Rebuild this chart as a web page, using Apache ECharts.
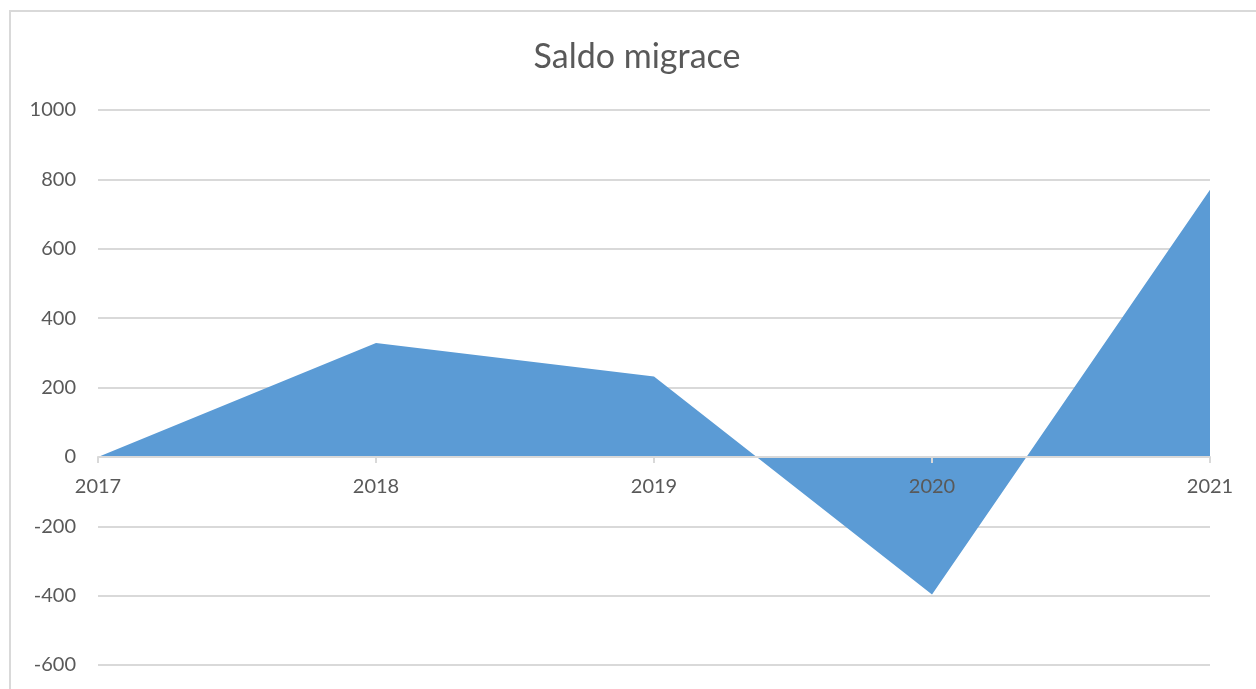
<!DOCTYPE html>
<html>
<head>
<meta charset="utf-8">
<script src="https://cdn.jsdelivr.net/npm/echarts@6/dist/echarts.min.js"></script>
<style>
  html, body { margin: 0; padding: 0; background: #fff; overflow: hidden; }
  .frame {
    position: absolute;
    left: 9px;
    top: 10px;
    width: 1400px;
    height: 900px;
    border: 2px solid #d9d9d9;
    box-sizing: border-box;
  }
  #chart {
    position: absolute;
    left: 0;
    top: 0;
    width: 1274px;
    height: 689px;
  }
</style>
</head>
<body>
<div class="frame"></div>
<div id="chart"></div>
<script>
const years = ['2017', '2018', '2019', '2020', '2021'];
const saldo = [0, 328, 232, -397, 770];
const yTicks = [-600, -400, -200, 0, 200, 400, 600, 800, 1000];

const textColor = '#595959';
const lineColor = '#d9d9d9';
const fillColor = '#5b9bd5';
const font = 'Lato, "Open Sans", sans-serif';

const gridHeight = 555;
const yMin = yTicks[0];
const yMax = yTicks[yTicks.length - 1];
// move the category axis up to the zero line (labels included)
const zeroOffset = -gridHeight * (0 - yMin) / (yMax - yMin);

const myChart = echarts.init(document.getElementById('chart'));

const option = {
  animation: false,
  title: {
    text: 'Saldo migrace',
    left: 'center',
    top: 35,
    textStyle: {
      color: textColor,
      fontWeight: 'normal',
      fontSize: 34,
      fontFamily: font
    }
  },
  grid: {
    left: 98,
    top: 110,
    width: 1112,
    height: gridHeight,
    containLabel: false,
    outerBoundsMode: 'none'
  },
  xAxis: {
    type: 'category',
    data: years,
    boundaryGap: false,
    position: 'bottom',
    offset: zeroOffset,
    axisLine: { onZero: false, lineStyle: { color: lineColor, width: 2 } },
    axisTick: { show: true, length: 6, lineStyle: { color: lineColor, width: 2 } },
    axisLabel: {
      interval: 0,
      margin: 20,
      color: textColor,
      fontSize: 20,
      fontFamily: font
    },
    splitLine: { show: false },
    z: 3
  },
  yAxis: {
    type: 'value',
    min: yMin,
    max: yMax,
    interval: 200,
    axisLine: { show: false },
    axisTick: { show: false },
    axisLabel: {
      margin: 22,
      color: textColor,
      fontSize: 20,
      fontFamily: font,
      formatter: (v) => String(v)
    },
    splitLine: { lineStyle: { color: lineColor, width: 2 } }
  },
  series: [
    {
      type: 'line',
      data: saldo,
      symbol: 'none',
      lineStyle: { width: 0 },
      areaStyle: { color: fillColor, opacity: 1, origin: 0 },
      z: 1
    }
  ]
};

myChart.setOption(option);
</script>
</body>
</html>
